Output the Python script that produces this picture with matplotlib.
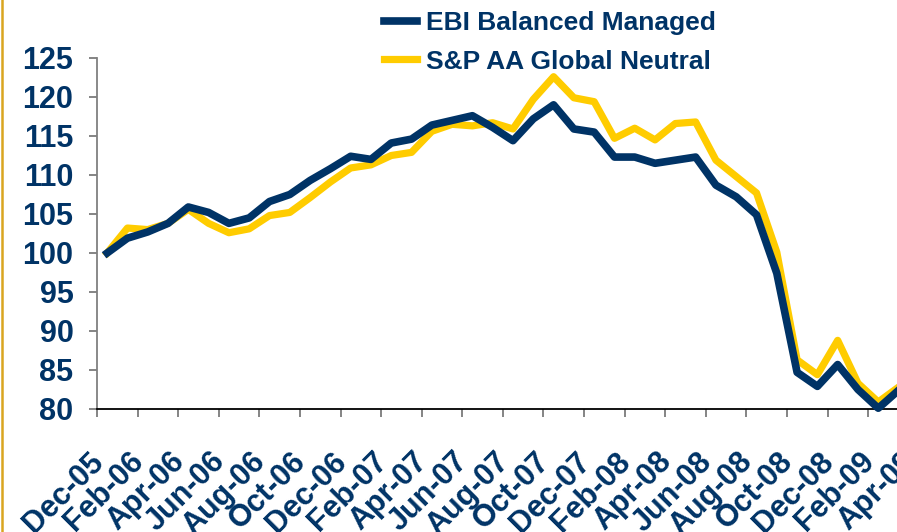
import numpy as np
import matplotlib.pyplot as plt
from matplotlib.lines import Line2D
from matplotlib.transforms import ScaledTranslation

navy = '#003366'
gold = '#FFCC00'

# monthly index values, Dec-05 .. Mar-09 (rebased to 100)
ebi_balanced = [100.0, 101.9, 102.7, 103.8, 105.9, 105.2, 103.8, 104.5, 106.6, 107.5,
                109.3, 110.8, 112.4, 112.0, 114.1, 114.6, 116.4, 117.0, 117.6, 116.1,
                114.4, 117.2, 119.0, 115.9, 115.5, 112.3, 112.3, 111.5, 111.9, 112.3,
                108.7, 107.2, 104.9, 97.4, 84.7, 82.9, 85.7, 82.5, 80.1, 82.4]
sp_neutral = [100.0, 103.2, 103.0, 103.8, 105.6, 103.8, 102.6, 103.1, 104.8, 105.2,
              107.1, 109.1, 110.9, 111.3, 112.5, 112.9, 115.6, 116.5, 116.3, 116.7,
              115.9, 119.7, 122.6, 119.9, 119.4, 114.7, 116.0, 114.5, 116.6, 116.8,
              111.9, 109.8, 107.7, 100.1, 86.3, 84.4, 88.8, 83.3, 80.9, 82.8]

# every second month gets a label, axis runs Dec-05 .. Apr-09
month_labels = ['Dec-05', 'Feb-06', 'Apr-06', 'Jun-06', 'Aug-06', 'Oct-06', 'Dec-06',
                'Feb-07', 'Apr-07', 'Jun-07', 'Aug-07', 'Oct-07', 'Dec-07', 'Feb-08',
                'Apr-08', 'Jun-08', 'Aug-08', 'Oct-08', 'Dec-08', 'Feb-09', 'Apr-09']
n_months = 41

plt.rcParams['font.family'] = ['Liberation Sans', 'DejaVu Sans']
plt.rcParams['font.weight'] = 'bold'

fig = plt.figure(figsize=(8.97, 5.32), dpi=100)
# plot area runs on past the right edge of the figure
ax = fig.add_axes([97 / 897, 123 / 532, 832 / 897, 351 / 532])

x = np.arange(len(ebi_balanced))
l_sp, = ax.plot(x, sp_neutral, color=gold, lw=5.2, clip_on=False, zorder=3,
                label='S&P AA Global Neutral')
l_ebi, = ax.plot(x, ebi_balanced, color=navy, lw=5.5, clip_on=False, zorder=4,
                 label='EBI Balanced Managed')

ax.set_xlim(-0.5, n_months - 0.5)
ax.set_ylim(80, 125)
ax.set_yticks(np.arange(80, 126, 5))

# tick marks between categories, labels on the category itself
ax.set_xticks(np.arange(-0.5, n_months, 2))
ax.set_xticklabels([])
ax.set_xticks(np.arange(0, n_months, 2), month_labels, minor=True)
ax.tick_params(axis='x', which='major', length=6, width=1.2, color='#707070')
ax.tick_params(axis='x', which='minor', length=0, pad=27, labelsize=22,
               labelcolor=navy)
ax.tick_params(axis='y', length=6, width=1.2, color='#707070', pad=11,
               labelsize=22, labelcolor=navy)

shift = ScaledTranslation(-19 / 100, 0, fig.dpi_scale_trans)
for lbl in ax.get_xticklabels(minor=True):
    lbl.set_rotation(45)
    lbl.set_rotation_mode('anchor')
    lbl.set_ha('right')
    lbl.set_va('top')
    lbl.set_transform(lbl.get_transform() + shift)

for side in ['top', 'right']:
    ax.spines[side].set_visible(False)
ax.spines['left'].set_color('#808080')
ax.spines['left'].set_linewidth(1.3)
ax.spines['bottom'].set_color('black')
ax.spines['bottom'].set_linewidth(1.3)

fig.legend(handles=[l_ebi, l_sp], loc='upper left',
           bbox_to_anchor=(384 / 897, 1 - 11 / 532), frameon=False,
           fontsize=19, labelcolor=navy, handlelength=1.25, handletextpad=0.35,
           labelspacing=0.55, borderpad=0, borderaxespad=0)

# thin gold rule down the left edge
fig.add_artist(Line2D([2 / 897, 2 / 897], [0, 1], color='#D9A520', lw=1.8,
                      transform=fig.transFigure))

fig.savefig('out.png', dpi=100)
